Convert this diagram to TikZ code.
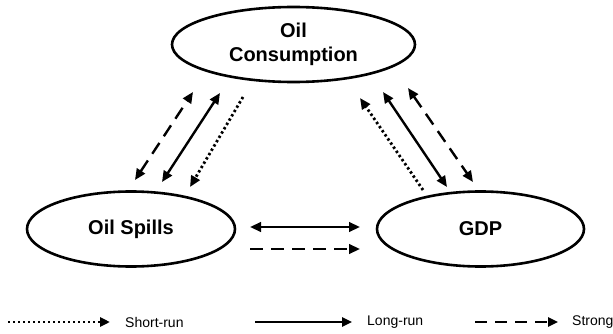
\documentclass[tikz,border=0pt]{standalone}
\usepackage{fontspec}
\setmainfont{Liberation Sans}
\usetikzlibrary{shapes.geometric,arrows.meta}
\begin{document}
\begin{tikzpicture}[x=1pt,y=-1pt,
  var/.style={ellipse,draw,line width=2.6pt,inner sep=0pt,font=\fontsize{20}{24}\selectfont\bfseries,align=center},
  conn/.style={line width=2.4pt},
  tip/.style={-{Triangle[length=11pt,width=9.5pt]}},
  bitip/.style={{Triangle[length=11pt,width=9.5pt]}-{Triangle[length=11pt,width=9.5pt]}},
  strongline/.style={conn,dash pattern=on 13pt off 8pt},
  shortline/.style={line width=2.8pt,dash pattern=on 2.4pt off 2.6pt},
  legtip/.style={-{Triangle[length=10pt,width=9pt]}},
  legtext/.style={anchor=west,inner sep=0pt,font=\fontsize{14}{16}\selectfont}
]
\useasboundingbox (0,0) rectangle (613,334);
\node[var,minimum width=243pt,minimum height=75pt] (oc) at (293.5,44.5) {Oil\\Consumption};
\node[var,minimum width=208pt,minimum height=75pt] (os) at (131,229) {Oil Spills};
\node[var,minimum width=207pt,minimum height=75pt] (gdp) at (480.5,229) {GDP};

% left group
\coordinate (l1a) at (135,180); \coordinate (l1b) at (193,92);
\coordinate (l2a) at (162,182); \coordinate (l2b) at (220,93);
\coordinate (l3a) at (243,97);  \coordinate (l3b) at (190,187);
\draw[strongline,bitip] (l1a) -- (l1b);
\draw[conn,bitip] (l2a) -- (l2b);
\draw[shortline,tip] (l3a) -- (l3b);

% right group
\coordinate (r1a) at (423,190); \coordinate (r1b) at (360,98);
\coordinate (r2a) at (447,187); \coordinate (r2b) at (383,92);
\coordinate (r3a) at (408,88);  \coordinate (r3b) at (473,182);
\draw[shortline,tip] (r1a) -- (r1b);
\draw[conn,bitip] (r2a) -- (r2b);
\draw[strongline,bitip] (r3a) -- (r3b);

% horizontal
\coordinate (h1a) at (250,227); \coordinate (h1b) at (360,227);
\coordinate (h2a) at (250,249); \coordinate (h2b) at (360,249);
\draw[conn,bitip] (h1a) -- (h1b);
\draw[strongline,tip] (h2a) -- (h2b);

% legend
\coordinate (g1a) at (8,322); \coordinate (g1b) at (110,322);
\coordinate (g2a) at (255,322); \coordinate (g2b) at (352,322);
\coordinate (g3a) at (475,322); \coordinate (g3b) at (558,322);
\draw[shortline,legtip] (g1a) -- (g1b);
\draw[conn,legtip] (g2a) -- (g2b);
\draw[conn,dash pattern=on 12pt off 8pt,legtip] (g3a) -- (g3b);
\node[legtext] (t1) at (125,322) {Short-run};
\node[legtext] (t2) at (367,322) {Long-run};
\node[legtext] (t3) at (572,322) {Strong};
\end{tikzpicture}
\end{document}
